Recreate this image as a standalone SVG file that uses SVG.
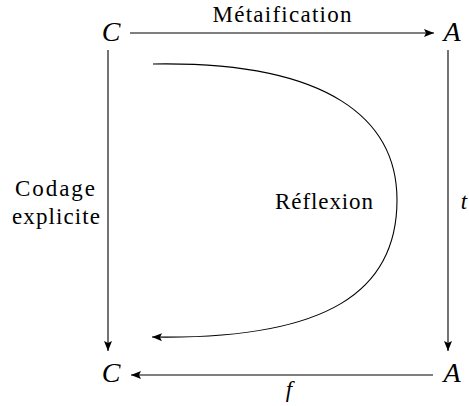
<svg xmlns="http://www.w3.org/2000/svg" width="469" height="406" viewBox="0 0 469 406">
<defs>
<marker id="ah" viewBox="0 0 10 8" refX="10" refY="4" markerWidth="10" markerHeight="8" markerUnits="userSpaceOnUse" orient="auto">
<path d="M0,0 L10,4 L0,8 L2,4 Z" fill="#000"/>
</marker>
</defs>
<g id="C1"><text x="111" y="41" style="font-family:'Liberation Serif',serif;font-style:italic;font-size:28px" text-anchor="middle">C</text></g>
<g id="A1"><text x="452" y="41" style="font-family:'Liberation Serif',serif;font-style:italic;font-size:28px" text-anchor="middle">A</text></g>
<g id="C2"><text x="111" y="382" style="font-family:'Liberation Serif',serif;font-style:italic;font-size:28px" text-anchor="middle">C</text></g>
<g id="A2"><text x="452" y="382" style="font-family:'Liberation Serif',serif;font-style:italic;font-size:28px" text-anchor="middle">A</text></g>
<g id="connectors" stroke="#000" stroke-width="1.1" fill="none">
<line x1="130" y1="33" x2="434" y2="33" marker-end="url(#ah)"/>
<line x1="108" y1="50" x2="108" y2="351" marker-end="url(#ah)"/>
<line x1="448" y1="50" x2="448" y2="351" marker-end="url(#ah)"/>
<line x1="433" y1="375" x2="131" y2="375" marker-end="url(#ah)"/>
<path d="M153,64 C330,61 397,120 397,200 C397,290 330,340 152,337" marker-end="url(#ah)"/>
</g>
<g id="labels">
<text x="282" y="22" style="font-family:'Liberation Serif',serif;font-size:23px" text-anchor="middle" textLength="139" lengthAdjust="spacing">Métaification</text>
<text x="55" y="196" style="font-family:'Liberation Serif',serif;font-size:23px" text-anchor="middle" textLength="80" lengthAdjust="spacing">Codage</text>
<text x="56" y="224" style="font-family:'Liberation Serif',serif;font-size:23px" text-anchor="middle" textLength="88" lengthAdjust="spacing">explicite</text>
<text x="324" y="209" style="font-family:'Liberation Serif',serif;font-size:23px" text-anchor="middle" textLength="98" lengthAdjust="spacing">Réflexion</text>
<text x="464" y="209" style="font-family:'Liberation Serif',serif;font-size:23px;font-style:italic" text-anchor="middle">t</text>
<text x="289" y="397" style="font-family:'Liberation Serif',serif;font-size:23px;font-style:italic" text-anchor="middle">f</text>
</g>
</svg>
